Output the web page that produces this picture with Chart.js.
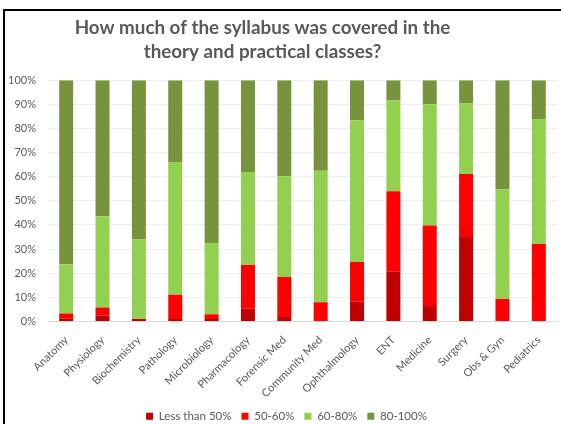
<!DOCTYPE html>
<html>
<head>
<meta charset="utf-8">
<script src="https://cdn.jsdelivr.net/npm/chart.js@4"></script>
<style>
    html, body { margin: 0; padding: 0; background: #fff; }
    #wrap { position: relative; width: 561px; height: 424px; overflow: hidden; }
    #frame {
        position: absolute; left: 3px; top: 9px; width: 600px; height: 500px;
        border-left: 2px solid #000; border-top: 2px solid #000;
    }
    #chart-syllabus { position: absolute; left: 0; top: 0; }
</style>
</head>
<body>
<div id="wrap">
    <div id="frame"></div>
    <canvas id="chart-syllabus" width="561" height="424"></canvas>
</div>
<script>
const subjects = ['Anatomy', 'Physiology', 'Biochemistry', 'Pathology', 'Microbiology', 'Pharmacology',
    'Forensic Med', 'Community Med', 'Ophthalmology', 'ENT', 'Medicine', 'Surgery', 'Obs & Gyn', 'Pediatrics'];
const lessThan50 = [1.1, 2.4, 1.0, 1.0, 1.0, 5.3, 1.9, 0, 8.2, 20.6, 6.4, 35.0, 0, 0];
const from50to60 = [2.2, 3.4, 0, 10.1, 2.0, 18.1, 16.5, 8.0, 16.5, 33.4, 33.4, 26.1, 9.3, 32.1];
const from60to80 = [20.4, 37.8, 33.1, 55.0, 29.5, 38.5, 41.8, 54.5, 58.7, 37.7, 50.2, 29.3, 45.5, 51.8];
const from80to100 = [76.3, 56.4, 65.9, 33.9, 67.5, 38.1, 39.8, 37.5, 16.6, 8.3, 10.0, 9.6, 45.2, 16.1];
const yTicks = [0, 10, 20, 30, 40, 50, 60, 70, 80, 90, 100];

const font = 'Lato, "Open Sans", sans-serif';
const grey = '#595959';

function bar(label, data, color) {
    return {
        label: label,
        data: data,
        backgroundColor: color,
        barPercentage: 0.385,
        categoryPercentage: 1,
    };
}

// title sits a little left of centre, legend a little right
const nudgeBlocks = {
    id: 'nudgeBlocks',
    afterLayout(chart) {
        const t = chart.titleBlock, l = chart.legend;
        if (t) { t.left -= 16; t.right -= 16; }
        if (l) { l.left += 8; l.right += 8; }
    },
};

new Chart(document.getElementById('chart-syllabus'), {
    type: 'bar',
    data: {
        labels: subjects,
        datasets: [
            bar('Less than 50%', lessThan50, '#c00000'),
            bar('50-60%', from50to60, '#ff0000'),
            bar('60-80%', from60to80, '#92d050'),
            bar('80-100%', from80to100, '#77933c'),
        ],
    },
    plugins: [nudgeBlocks],
    options: {
        responsive: false,
        animation: false,
        layout: { padding: { left: 0, right: 4, top: 0, bottom: -8 } },
        plugins: {
            title: {
                display: true,
                text: ['How much of the syllabus was covered in the', 'theory and practical classes?'],
                color: grey,
                font: { family: font, size: 18.8, weight: 'bold', lineHeight: 1.28 },
                padding: { top: 16, bottom: 16 },
            },
            legend: {
                position: 'bottom',
                labels: {
                    color: grey,
                    font: { family: font, size: 11.5 },
                    boxWidth: 7,
                    boxHeight: 7,
                    padding: 10,
                },
            },
            tooltip: { enabled: false },
        },
        scales: {
            x: {
                stacked: true,
                afterFit: s => { s.height = 79; },
                grid: { display: false },
                border: { color: '#d9d9d9' },
                ticks: {
                    color: grey,
                    font: { family: font, size: 11 },
                    minRotation: 45,
                    maxRotation: 45,
                    padding: 4,
                },
            },
            y: {
                stacked: true,
                min: 0,
                max: 100,
                afterFit: s => { s.width = 48; },
                afterBuildTicks: s => { s.ticks = yTicks.map(v => ({ value: v })); },
                grid: { color: '#eeeeee', drawTicks: false },
                border: { display: false },
                ticks: {
                    color: grey,
                    font: { family: font, size: 11 },
                    padding: 12,
                    callback: v => v + '%',
                },
            },
        },
    },
});
</script>
</body>
</html>
